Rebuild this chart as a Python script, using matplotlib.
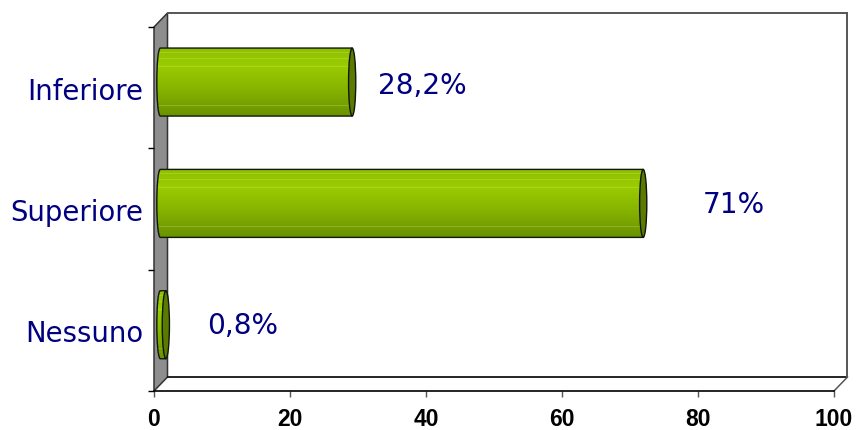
import numpy as np
import matplotlib
matplotlib.use("Agg")
import matplotlib.pyplot as plt
from matplotlib.patches import Polygon, Ellipse, PathPatch
from matplotlib.path import Path
from matplotlib.lines import Line2D
from matplotlib.transforms import offset_copy

categories = ["Nessuno", "Superiore", "Inferiore"]
values = [0.8, 71, 28.2]
value_labels = ["0,8%", "71%", "28,2%"]
x_ticks = [0, 20, 40, 60, 80, 100]

W, H = 859, 431
NAVY = "#000080"
fig = plt.figure(figsize=(W / 100, H / 100), dpi=100, facecolor="white")
L, R, T, B = 154, 834, 28, 392
ax = fig.add_axes([L / W, (H - B) / H, (R - L) / W, (B - T) / H])
ax.set_facecolor("none")
ax.set_xlim(0, 100)
ax.set_ylim(0, 3)

# 3D frame, in axes fractions
dx = 13.5 / (R - L)
dy = 14 / (B - T)
ax.add_patch(Polygon([(0, 0), (dx, dy), (dx, 1 + dy), (0, 1)], closed=True, transform=ax.transAxes,
                     facecolor="#8e8e8e", edgecolor="#333333", lw=1.1, clip_on=False, zorder=1))
def frame(xs, ys, color, lw):
    ax.add_line(Line2D(xs, ys, transform=ax.transAxes, color=color, lw=lw, clip_on=False, zorder=1.5))
frame([dx, 1 + dx], [dy, dy], "black", 1.2)
frame([dx, 1 + dx], [1 + dy, 1 + dy], "#555555", 1.4)
frame([1 + dx, 1 + dx], [dy, 1 + dy], "#555555", 1.4)
frame([1, 1 + dx], [0, dy], "#555555", 1.1)

# bars
bar_h = 68 / ((B - T) / 3)
capw = 3.6 / ((R - L) / 100)
tr = offset_copy(ax.transData, fig=fig, x=6.4, y=5.6, units="dots")

stops_pos = [0, 0.25, 0.55, 1]
stops_rgb = np.array([[0x8f, 0xbf, 0x00], [0x9a, 0xcc, 0x00], [0x8a, 0xb8, 0x00], [0x6a, 0x92, 0x00]]) / 255
rows = np.linspace(0, 1, 68)
grad = np.stack([np.interp(rows, stops_pos, stops_rgb[:, i]) for i in range(3)], axis=1)
for s in (0.07, 0.16, 0.27, 0.85):
    k = int(s * 68)
    grad[k] = grad[k] * 0.75 + 0.25 * np.array([0.85, 0.95, 0.55])
grad = grad[:, None, :]

for i, v in enumerate(values):
    yc = i + 0.5
    y0, y1 = yc - bar_h / 2, yc + bar_h / 2
    verts = [(v, y0), (0, y0), (-capw * 1.33, y0), (-capw * 1.33, y1), (0, y1), (v, y1), (v, y0)]
    codes = [Path.MOVETO, Path.LINETO, Path.CURVE4, Path.CURVE4, Path.CURVE4, Path.LINETO, Path.CLOSEPOLY]
    outline = PathPatch(Path(verts, codes), transform=tr, facecolor="none", edgecolor="#10180a",
                        lw=1, zorder=4, clip_on=False)
    ax.add_patch(outline)
    im = ax.imshow(grad, extent=(-capw * 1.2, v, y0, y1), aspect="auto", transform=tr,
                   interpolation="bilinear", zorder=3)
    im.set_clip_path(PathPatch(Path(verts, codes), transform=tr))
    ax.add_patch(Ellipse((v, yc), 2 * capw, bar_h, transform=tr, facecolor="#5a7a00",
                         edgecolor="#10180a", lw=1, zorder=5, clip_on=False))

ax.set_xlim(0, 100)
ax.set_ylim(0, 3)

# value labels
label_x = [7.8, 80.7, 32.9]
label_y = [0.5 + 0.04, 1.5 + 0.045, 2.5 + 0.02]
for x, y, s in zip(label_x, label_y, value_labels):
    ax.text(x, y, s, color=NAVY, fontsize=20.2, family="DejaVu Sans", ha="left", va="center", zorder=6)

# axes
for s in ("top", "right"):
    ax.spines[s].set_visible(False)
ax.spines["left"].set_visible(False)
ax.spines["bottom"].set_color("black")
ax.spines["bottom"].set_linewidth(1.2)
ax.set_xticks(x_ticks)
ax.set_xticklabels([str(t) for t in x_ticks], fontsize=16.5, fontweight="bold", family="Liberation Sans")
ax.tick_params(axis="x", length=4.3, width=1, color="#555555", pad=7.5)
ax.set_yticks([0, 1, 2, 3])
ax.set_yticklabels([])
ax.tick_params(axis="y", which="major", length=4.3, width=1, color="black")
ax.set_yticks([0.5, 1.5, 2.5], minor=True)
ax.set_yticklabels(categories, minor=True, fontsize=19.8, color=NAVY, family="DejaVu Sans")
ax.tick_params(axis="y", which="minor", length=0, pad=7.5)

fig.savefig("out.png", dpi=100, facecolor="white")
